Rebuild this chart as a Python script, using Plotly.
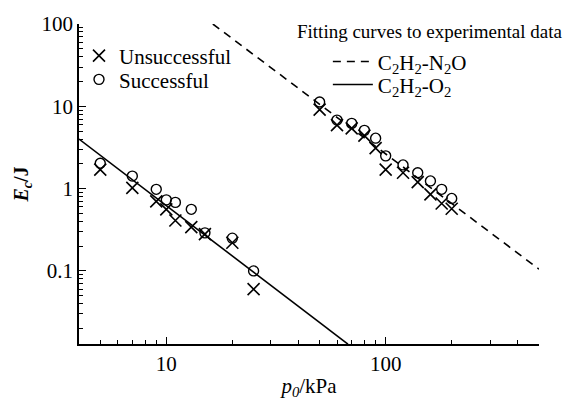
import plotly.graph_objects as go

# ---- data ----
o2_p_fail = [5, 7, 9, 10, 11, 13, 15, 20, 25]
o2_E_fail = [1.70, 1.02, 0.70, 0.56, 0.41, 0.34, 0.28, 0.22, 0.06]
o2_p_succ = [5, 7, 9, 10, 11, 13, 15, 20, 25]
o2_E_succ = [2.03, 1.42, 0.98, 0.73, 0.68, 0.56, 0.29, 0.25, 0.10]

n2o_p_fail = [50, 60, 70, 80, 90, 100, 120, 140, 160, 180, 200]
n2o_E_fail = [9.1, 5.9, 5.4, 4.4, 3.1, 1.7, 1.56, 1.2, 0.85, 0.66, 0.57]
n2o_p_succ = [50, 60, 70, 80, 90, 100, 120, 140, 160, 180, 200]
n2o_E_succ = [11.3, 6.8, 6.2, 5.1, 4.1, 2.5, 1.94, 1.56, 1.24, 0.98, 0.76]

# fitted curves (end points)
fit_n2o_p = [16.3, 500]
fit_n2o_E = [100, 0.105]
fit_o2_p = [4, 67.3]
fit_o2_E = [4.0, 0.0129]

FONT = "Liberation Serif"
fig = go.Figure()

cross = dict(symbol="x-thin-open", size=12, color="black", line=dict(color="black", width=1.6))
circ = dict(symbol="circle-open", size=10, color="black", line=dict(color="black", width=1.4))

fig.add_trace(go.Scatter(x=o2_p_fail, y=o2_E_fail, mode="markers", marker=cross,
                         name="Unsuccessful", legendgroup="f", legend="legend"))
fig.add_trace(go.Scatter(x=n2o_p_fail, y=n2o_E_fail, mode="markers", marker=cross,
                         name="Unsuccessful", legendgroup="f", showlegend=False))
fig.add_trace(go.Scatter(x=o2_p_succ, y=o2_E_succ, mode="markers", marker=circ,
                         name="Successful", legendgroup="s", legend="legend4"))
fig.add_trace(go.Scatter(x=n2o_p_succ, y=n2o_E_succ, mode="markers", marker=circ,
                         name="Successful", legendgroup="s", showlegend=False))

fig.add_trace(go.Scatter(x=fit_n2o_p, y=fit_n2o_E, mode="lines",
                         line=dict(color="black", width=1.6, dash="8px,6px"),
                         name="C<sub>2</sub>H<sub>2</sub>-N<sub>2</sub>O", legend="legend2"))
fig.add_trace(go.Scatter(x=fit_o2_p, y=fit_o2_E, mode="lines",
                         line=dict(color="black", width=1.6),
                         name="C<sub>2</sub>H<sub>2</sub>-O<sub>2</sub>", legend="legend3"))

axis_common = dict(
    type="log", showline=True, linecolor="black", linewidth=1.5,
    ticks="inside", ticklen=7, tickwidth=1.2, tickcolor="black",
    showgrid=False, zeroline=False, dtick=1, mirror=False,
    tickfont=dict(family=FONT, size=21, color="black"),
    minor=dict(ticks="inside", ticklen=4, tickwidth=1, tickcolor="black", dtick="D1", showgrid=False),
)

fig.update_xaxes(**axis_common, range=[0.60206, 2.69897],
                 title=dict(text="<i>p</i><sub><i>0</i></sub>/kPa",
                            font=dict(family=FONT, size=21, color="black"), standoff=3))
fig.update_yaxes(**axis_common, range=[-1.888, 2.0],
                 title=dict(text="<b><i>E</i><sub><i>c</i></sub>/J</b>",
                            font=dict(family=FONT, size=20, color="black"), standoff=8))

leg_common = dict(xanchor="left", yanchor="top", bgcolor="rgba(0,0,0,0)")
legfont = dict(family=FONT, size=21, color="black")
linefont = dict(family=FONT, size=21, color="black")

fig.update_layout(
    width=566, height=406,
    margin=dict(l=79, r=27, t=15, b=52),
    paper_bgcolor="white", plot_bgcolor="white",
    font=dict(family=FONT, size=20, color="black"),
    legend=dict(x=0.0, y=0.964, font=legfont, itemwidth=30, **leg_common),
    legend4=dict(x=0.0, y=0.890, font=legfont, itemwidth=30, **leg_common),
    legend2=dict(x=0.541, y=0.946, font=linefont, itemwidth=40, **leg_common),
    legend3=dict(x=0.541, y=0.874, font=linefont, itemwidth=40, **leg_common),
    annotations=[dict(text="Fitting curves to experimental data", xref="paper", yref="paper",
                      x=1.054, y=0.976, xanchor="right", yanchor="middle", showarrow=False,
                      font=dict(family=FONT, size=19, color="black"))],
)

fig.write_html("out.html")
